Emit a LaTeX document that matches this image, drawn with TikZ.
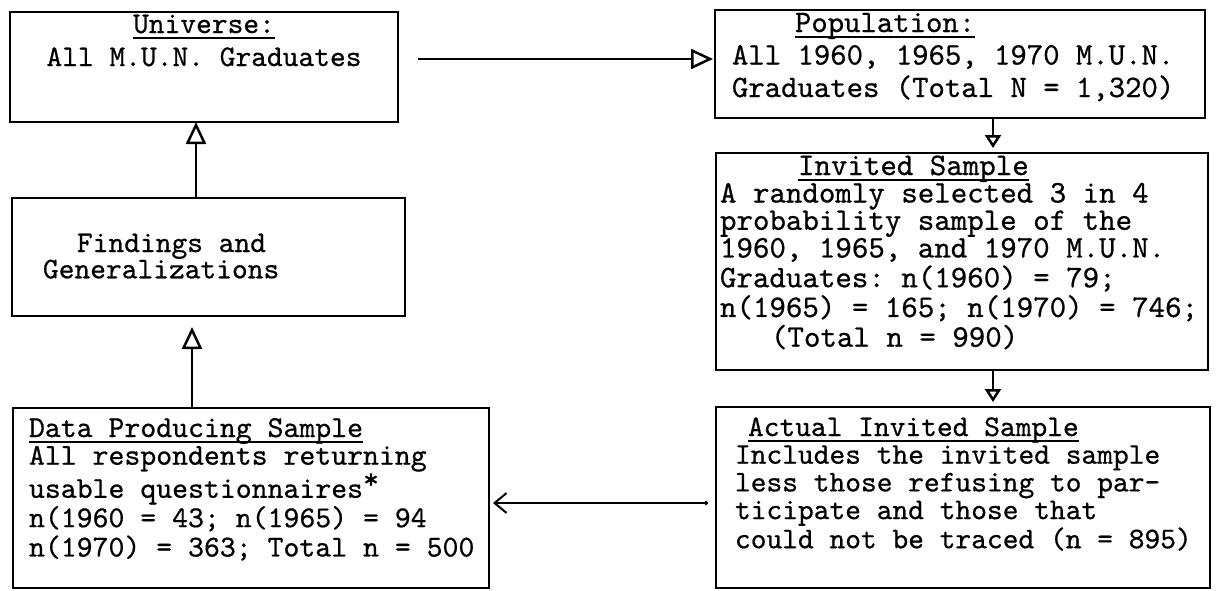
\documentclass[tikz,border=0pt]{standalone}
\usepackage{fontspec}
\setmonofont{lmmono10-regular.otf}[FakeBold=0.6]
\usetikzlibrary{arrows.meta}
\newsavebox\ulbox
\newcommand\ulx[1]{\sbox\ulbox{#1}\rlap{\raisebox{-6pt}[0pt][0pt]{\rule{\wd\ulbox}{1.8pt}}}\usebox\ulbox}
\tikzset{
  box/.style={draw, line width=2pt, inner sep=0pt, outer sep=0pt, anchor=north west},
  txt/.style={inner sep=0pt, outer sep=0pt},
  bigarrow/.style={line width=2.5pt, -{Triangle[open, length=22pt, width=20pt]}},
  smallarrow/.style={line width=2.5pt, -{Triangle[open, length=13pt, width=16pt]}},
  barbarrow/.style={line width=2pt, {Circle[length=4pt]}-{Straight Barb[length=12pt, width=20pt]}},
}
\begin{document}
\begin{tikzpicture}[x=1pt,y=-1pt]
\useasboundingbox (0,0) rectangle (1224,590);
% boxes
\node[box, minimum width=388pt, minimum height=110pt] (uni) at (10,12) {};
\node[box, minimum width=490pt, minimum height=108pt] (pop) at (715,10) {};
\node[box, minimum width=492pt, minimum height=217pt] (inv) at (716,153) {};
\node[box, minimum width=494pt, minimum height=181pt] (act) at (716,407) {};
\node[box, minimum width=393pt, minimum height=118pt] (fin) at (12,198) {};
\node[box, minimum width=476pt, minimum height=180pt] (dat) at (13,408) {};
% texts
\node[txt, anchor=base, font=\ttfamily\fontsize{30}{33}\selectfont] (unit) at (204,33)
  {\begin{tabular}[t]{@{}c@{}}\ulx{Universe:}\\All M.U.N. Graduates\end{tabular}};
\node[txt, anchor=base west, font=\ttfamily\fontsize{31.2}{32.5}\selectfont] (popt) at (732,32)
  {\begin{tabular}[t]{@{}l@{}}\hspace*{63pt}\ulx{Population:}\\All 1960, 1965, 1970 M.U.N.\\Graduates (Total N = 1,320)\end{tabular}};
\node[txt, anchor=base west, font=\ttfamily\fontsize{31.4}{26.5}\selectfont] (invt) at (720,175)
  {\begin{tabular}[t]{@{}l@{}}\hspace*{78pt}\ulx{Invited Sample}\\A randomly selected 3 in 4\\probability sample of the\\1960, 1965, and 1970 M.U.N.\\Graduates: n(1960) = 79;\\n(1965) = 165; n(1970) = 746;\\\hspace*{51pt}(Total n = 990)\end{tabular}};
\node[txt, anchor=base west, font=\ttfamily\fontsize{30}{27.7}\selectfont] (actt) at (735,436)
  {\begin{tabular}[t]{@{}l@{}}\hspace*{13pt}\ulx{Actual Invited Sample}\\Includes the invited sample\\less those refusing to par-\\ticipate and those that\\could not be traced (n = 895)\end{tabular}};
\node[txt, anchor=base west, font=\ttfamily\fontsize{30}{25.5}\selectfont] (fint) at (43,252)
  {\begin{tabular}[t]{@{}l@{}}\hspace*{34pt}Findings and\\Generalizations\end{tabular}};
\node[txt, anchor=base west, font=\ttfamily\fontsize{30.3}{27.7}\selectfont] (datt) at (29,437)
  {\begin{tabular}[t]{@{}l@{}}\ulx{Data Producing Sample}\\All respondents returning\\usable questionnaires\raisebox{9pt}{*}\\n(1960 = 43; n(1965) = 94\\n(1970) = 363; Total n = 500\end{tabular}};
% connectors
\draw[bigarrow, shorten <=20pt, shorten >=2pt] ([yshift=8pt]uni.east) -- ([yshift=8pt]uni.east -| pop.west);
\draw[smallarrow, shorten >=5pt] ([xshift=33pt]pop.south) -- ([xshift=33pt]pop.south |- inv.north);
\draw[smallarrow, shorten >=5pt] ([xshift=31pt]inv.south) -- ([xshift=31pt]inv.south |- act.north);
\draw[barbarrow, shorten <=8pt, shorten >=4pt] ([yshift=-5.5pt]act.west) -- ([yshift=-5.5pt]act.west -| dat.east);
\draw[bigarrow, shorten >=11pt] ([xshift=-59pt]dat.north) -- ([xshift=-59pt]dat.north |- fin.south);
\draw[bigarrow] ([xshift=-12.5pt]fin.north) -- ([xshift=-12.5pt]fin.north |- uni.south);
\end{tikzpicture}
\end{document}
